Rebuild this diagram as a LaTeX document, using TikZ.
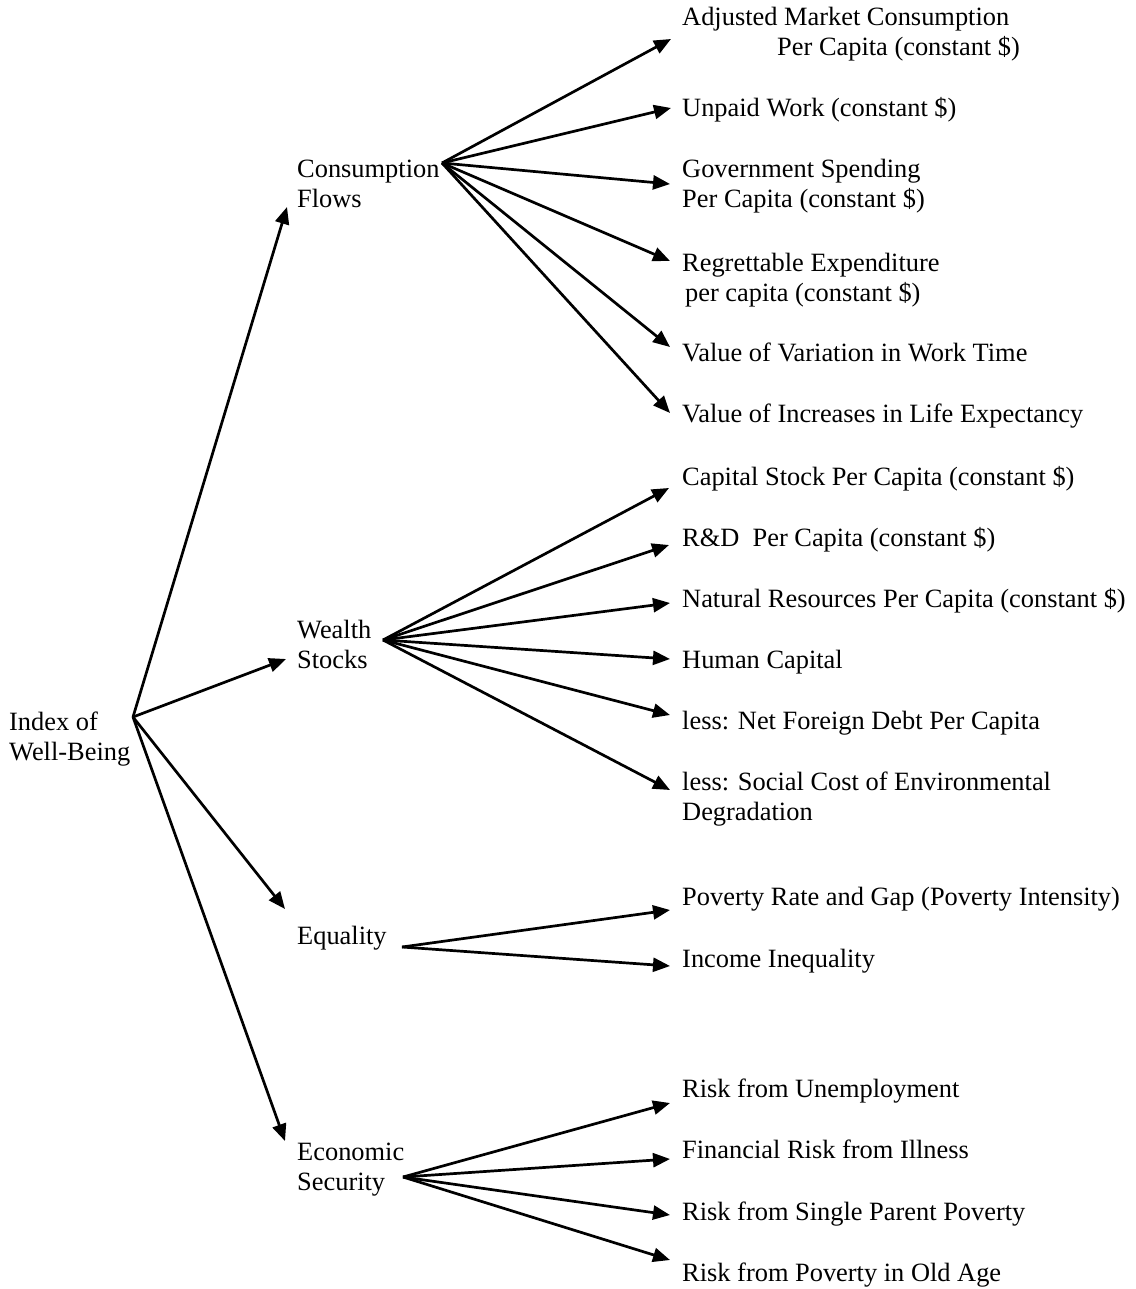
\documentclass[tikz,border=0pt]{standalone}
\usepackage{fontspec}
\setmainfont{Liberation Serif}
\usetikzlibrary{arrows.meta}
\begin{document}
\begin{tikzpicture}[x=1pt,y=-1pt,
  lbl/.style={anchor=base west,inner sep=0pt,font=\fontsize{26.4}{30}\selectfont},
  conn/.style={line width=2.7pt,-{Triangle[length=17pt,width=14pt]}}]
\useasboundingbox (0,0) rectangle (1135,1289);
\newcommand{\twol}[2]{\begin{tabular}[t]{@{}l@{}}#1\\#2\end{tabular}}
% left column
\node[lbl] (root) at (9,730) {\twol{Index of}{Well-Being}};
\node[lbl] (cf) at (297,178) {\twol{Consumption}{Flows}};
\node[lbl] (ws) at (297,638) {\twol{Wealth}{Stocks}};
\node[lbl] (eq) at (297,944) {Equality};
\node[lbl] (es) at (297,1160) {\twol{Economic}{Security}};
% right column
\node[lbl] (c1) at (682,26) {\twol{Adjusted Market Consumption}{\hspace*{95pt}Per Capita (constant \$)}};
\node[lbl] (c2) at (682,117) {Unpaid Work (constant \$)};
\node[lbl] (c3) at (682,178) {\twol{Government Spending}{Per Capita (constant \$)}};
\node[lbl] (c4) at (682,271) {\twol{Regrettable Expenditure}{\hspace*{3pt}per capita (constant \$)}};
\node[lbl] (c5) at (682,361) {Value of Variation in Work Time};
\node[lbl] (c6) at (682,422) {Value of Increases in Life Expectancy};
\node[lbl] (w1) at (682,485) {Capital Stock Per Capita (constant \$)};
\node[lbl] (w2) at (682,546) {R\&D\ \ Per Capita (constant \$)};
\node[lbl] (w3) at (682,607) {Natural Resources Per Capita (constant \$)};
\node[lbl] (w4) at (682,668) {Human Capital};
\node[lbl] (w5) at (682,729) {less: Net Foreign Debt Per Capita};
\node[lbl] (w6) at (682,790) {\twol{less: Social Cost of Environmental}{Degradation}};
\node[lbl] (e1) at (682,905) {Poverty Rate and Gap (Poverty Intensity)};
\node[lbl] (e2) at (682,967) {Income Inequality};
\node[lbl] (s1) at (682,1097) {Risk from Unemployment};
\node[lbl] (s2) at (682,1158) {Financial Risk from Illness};
\node[lbl] (s3) at (682,1220) {Risk from Single Parent Poverty};
\node[lbl] (s4) at (682,1281) {Risk from Poverty in Old Age};
% hubs
\coordinate (hroot) at (133,717);
\coordinate (hcf) at (442,163);
\coordinate (hws) at (383,640);
\coordinate (heq) at (402,947);
\coordinate (hes) at (403,1177);
% tips
\coordinate (tcf) at (287,207);
\coordinate (tws) at (286,659);
\coordinate (teq) at (285,909);
\coordinate (tes) at (285,1141);
\coordinate (tc1) at (671,39);
\coordinate (tc2) at (671,108);
\coordinate (tc3) at (670,184);
\coordinate (tc4) at (670,261);
\coordinate (tc5) at (670,347);
\coordinate (tc6) at (670,413);
\coordinate (tw1) at (669,488);
\coordinate (tw2) at (669,545);
\coordinate (tw3) at (670,603);
\coordinate (tw4) at (670,659);
\coordinate (tw5) at (670,715);
\coordinate (tw6) at (670,790);
\coordinate (te1) at (670,910);
\coordinate (te2) at (670,966);
\coordinate (ts1) at (670,1103);
\coordinate (ts2) at (670,1159);
\coordinate (ts3) at (670,1215);
\coordinate (ts4) at (670,1260);
% connectors
\foreach \t in {tcf,tws,teq,tes} \draw[conn] (hroot) -- (\t);
\foreach \t in {tc1,tc2,tc3,tc4,tc5,tc6} \draw[conn] (hcf) -- (\t);
\foreach \t in {tw1,tw2,tw3,tw4,tw5,tw6} \draw[conn] (hws) -- (\t);
\foreach \t in {te1,te2} \draw[conn] (heq) -- (\t);
\foreach \t in {ts1,ts2,ts3,ts4} \draw[conn] (hes) -- (\t);
\end{tikzpicture}
\end{document}
